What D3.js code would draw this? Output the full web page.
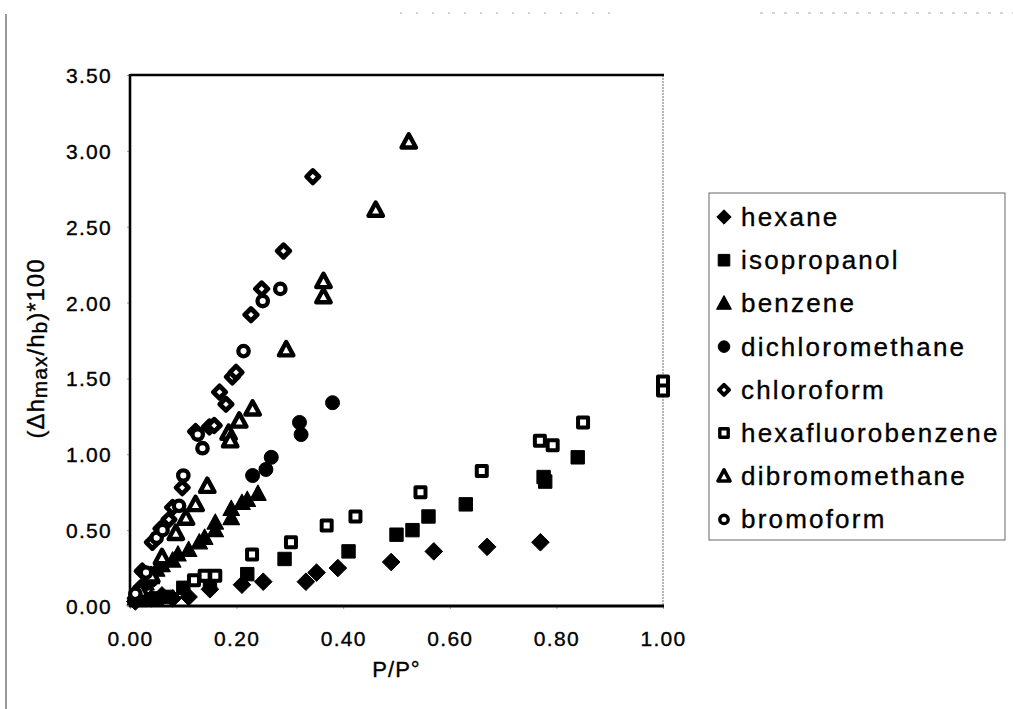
<!DOCTYPE html>
<html><head><meta charset="utf-8">
<script src="https://cdn.jsdelivr.net/npm/d3@7"></script>
<style>
body{margin:0;background:#fff;}
svg text{font-family:"Liberation Sans",Arial,Helvetica,sans-serif;fill:#000;stroke:#000;stroke-width:0.35px;}
</style></head>
<body><svg id="chart" width="1013" height="709"></svg>
<script>
const seriesNames = ["hexane","isopropanol","benzene","dichloromethane","chloroform","hexafluorobenzene","dibromomethane","bromoform"];
const xTicks = [0,0.2,0.4,0.6,0.8,1.0];
const yTicks = [0,0.5,1.0,1.5,2.0,2.5,3.0,3.5];

const hexaneX = [0.01,0.02,0.04,0.06,0.08,0.11,0.15,0.21,0.25,0.33,0.35,0.39,0.49,0.57,0.67,0.77];
const hexaneY = [0.03,0.06,0.05,0.07,0.05,0.06,0.11,0.14,0.16,0.16,0.22,0.25,0.29,0.36,0.39,0.42];
const isopropanolX = [0.02,0.05,0.07,0.10,0.15,0.22,0.29,0.41,0.50,0.53,0.56,0.63,0.776,0.779,0.84];
const isopropanolY = [0.04,0.05,0.06,0.12,0.15,0.21,0.31,0.36,0.47,0.50,0.59,0.67,0.85,0.82,0.98];
const benzeneX = [0.01,0.02,0.03,0.04,0.05,0.06,0.08,0.09,0.11,0.13,0.14,0.16,0.16,0.19,0.19,0.21,0.22,0.24];
const benzeneY = [0.05,0.10,0.15,0.19,0.24,0.27,0.30,0.34,0.37,0.42,0.45,0.50,0.55,0.58,0.64,0.68,0.70,0.74];
const dichloromethaneX = [0.01,0.02,0.04,0.06,0.23,0.255,0.265,0.318,0.321,0.38];
const dichloromethaneY = [0.04,0.07,0.17,0.27,0.86,0.90,0.98,1.21,1.13,1.34];
const chloroformX = [0.01,0.02,0.023,0.042,0.058,0.073,0.08,0.098,0.123,0.149,0.158,0.168,0.18,0.192,0.199,0.227,0.247,0.288,0.343];
const chloroformY = [0.05,0.12,0.23,0.42,0.51,0.57,0.65,0.78,1.15,1.18,1.19,1.41,1.33,1.51,1.54,1.92,2.09,2.34,2.83];
const hexafluorobenzeneX = [0.12,0.14,0.16,0.229,0.302,0.369,0.423,0.545,0.66,0.769,0.793,0.85,1.0,1.0];
const hexafluorobenzeneY = [0.17,0.20,0.20,0.34,0.42,0.53,0.59,0.75,0.89,1.09,1.06,1.21,1.48,1.42];
const dibromomethaneX = [0.02,0.04,0.06,0.086,0.105,0.123,0.145,0.185,0.188,0.205,0.23,0.293,0.363,0.363,0.461,0.523];
const dibromomethaneY = [0.10,0.20,0.32,0.48,0.58,0.67,0.79,1.14,1.09,1.22,1.30,1.69,2.14,2.04,2.61,3.06];
const bromoformX = [0.01,0.03,0.05,0.061,0.092,0.10,0.127,0.136,0.213,0.249,0.282];
const bromoformY = [0.08,0.22,0.45,0.50,0.66,0.86,1.13,1.04,1.68,2.01,2.09];

const seriesData = [
  [hexaneX,hexaneY],[isopropanolX,isopropanolY],[benzeneX,benzeneY],
  [dichloromethaneX,dichloromethaneY],[chloroformX,chloroformY],
  [hexafluorobenzeneX,hexafluorobenzeneY],[dibromomethaneX,dibromomethaneY],[bromoformX,bromoformY]
];

// custom symbol shapes (size = half-extent in px)
const shapes = {
  diamond:{draw(c,r){c.moveTo(0,-r);c.lineTo(r,0);c.lineTo(0,r);c.lineTo(-r,0);c.closePath();}},
  square:{draw(c,r){c.rect(-r,-r,2*r,2*r);}},
  triangle:{draw(c,r){c.moveTo(0,-r*1.05);c.lineTo(r,r*0.8);c.lineTo(-r,r*0.8);c.closePath();}},
  circle:{draw(c,r){c.moveTo(r,0);c.arc(0,0,r,0,2*Math.PI);}}
};
const styles = [
  {shape:"diamond",filled:true,r:8.8,sw:1},
  {shape:"square",filled:true,r:6.7,sw:1},
  {shape:"triangle",filled:true,r:8.2,sw:1.2},
  {shape:"circle",filled:true,r:7,sw:1},
  {shape:"diamond",filled:false,r:6.2,sw:4.8},
  {shape:"square",filled:false,r:5,sw:4},
  {shape:"triangle",filled:false,r:7.2,sw:4.4},
  {shape:"circle",filled:false,r:5.2,sw:4.3}
];
const legendStyles = [
  {shape:"diamond",filled:true,r:7.2,sw:1},
  {shape:"square",filled:true,r:5.8,sw:1},
  {shape:"triangle",filled:true,r:7.2,sw:1.2},
  {shape:"circle",filled:true,r:5.8,sw:1},
  {shape:"diamond",filled:false,r:5,sw:4},
  {shape:"square",filled:false,r:4.2,sw:3.4},
  {shape:"triangle",filled:false,r:6,sw:3.6},
  {shape:"circle",filled:false,r:4.2,sw:3.4}
];

const svg = d3.select("#chart");
const L=130,R=663,T=75,B=606;
const x = d3.scaleLinear().domain([0,1]).range([L,R]);
const y = d3.scaleLinear().domain([0,3.5]).range([B,T]);

// scan border line on the left
svg.append("line").attr("x1",6).attr("x2",6).attr("y1",14).attr("y2",709)
  .attr("stroke","#555").attr("stroke-width",1.2);
svg.append("line").attr("x1",400).attr("x2",615).attr("y1",13).attr("y2",13)
  .attr("stroke","#aaa").attr("stroke-width",1).attr("stroke-dasharray","2,14");
svg.append("line").attr("x1",760).attr("x2",1013).attr("y1",13).attr("y2",13)
  .attr("stroke","#aaa").attr("stroke-width",1).attr("stroke-dasharray","3,9");

// axes
const yAxis = d3.axisLeft(y).tickValues(yTicks).tickFormat(d3.format(".2f")).tickSize(3).tickPadding(15);
const gy = svg.append("g").attr("transform",`translate(${L},0)`).call(yAxis);
gy.select(".domain").remove();
gy.selectAll(".tick line").attr("stroke","#999");
gy.selectAll(".tick text").attr("font-size",21).attr("letter-spacing","1.3px").attr("dy","0.36em");

const xAxis = d3.axisBottom(x).tickValues(xTicks).tickFormat(d3.format(".2f")).tickSize(3).tickPadding(22);
const gx = svg.append("g").attr("transform",`translate(0,${B})`).call(xAxis);
gx.select(".domain").remove();
gx.selectAll(".tick line").attr("stroke","#999");
gx.selectAll(".tick text").attr("font-size",21).attr("letter-spacing","1.3px");

// frame
svg.append("line").attr("x1",R).attr("x2",R).attr("y1",T).attr("y2",B)
  .attr("stroke","#888").attr("stroke-width",1.2).attr("stroke-dasharray","2,1");
svg.append("line").attr("x1",L).attr("x2",R+1).attr("y1",T).attr("y2",T).attr("stroke","#000").attr("stroke-width",2.6);
svg.append("line").attr("x1",L).attr("x2",L).attr("y1",T-1).attr("y2",B+1).attr("stroke","#000").attr("stroke-width",2.6);
svg.append("line").attr("x1",L-1).attr("x2",R+1).attr("y1",B).attr("y2",B).attr("stroke","#000").attr("stroke-width",3);

// axis titles
svg.append("text").attr("x",(L+R)/2).attr("y",677).attr("text-anchor","middle")
  .attr("font-size",22).attr("letter-spacing","1px").text("P/P°");
const yt = svg.append("text").attr("transform",`translate(44,${(T+B)/2+8}) rotate(-90)`)
  .attr("text-anchor","middle").attr("font-size",24).attr("letter-spacing","1px");
yt.append("tspan").text("(\u0394h");
yt.append("tspan").attr("font-size",21).attr("dy",3).text("max");
yt.append("tspan").attr("dy",-3).text("/h");
yt.append("tspan").attr("font-size",21).attr("dy",3).text("b");
yt.append("tspan").attr("dy",-3).text(")*100");

// points
const gp = svg.append("g");
seriesData.forEach((sd,i)=>{
  const st = styles[i];
  const pts = sd[0].map((v,k)=>({x:v,y:sd[1][k]}));
  const sym = d3.symbol().type(shapes[st.shape]).size(st.r);
  gp.append("g").selectAll("path").data(pts).join("path")
    .attr("transform",d=>`translate(${x(d.x)},${y(d.y)})`)
    .attr("d",sym)
    .attr("fill",st.filled?"#000":"#fff")
    .attr("stroke","#000")
    .attr("stroke-width",st.sw)
    .attr("stroke-linejoin","round");
});

// legend
const lg = svg.append("g");
lg.append("rect").attr("x",709).attr("y",193).attr("width",296).attr("height",347)
  .attr("fill","none").attr("stroke","#666").attr("stroke-width",1);
seriesNames.forEach((n,i)=>{
  const cy = 217 + i*43.2;
  const st = legendStyles[i];
  lg.append("path").attr("transform",`translate(724,${cy})`)
    .attr("d",d3.symbol().type(shapes[st.shape]).size(st.r))
    .attr("fill",st.filled?"#000":"#fff").attr("stroke","#000")
    .attr("stroke-width",st.sw).attr("stroke-linejoin","round");
  lg.append("text").attr("x",741).attr("y",cy+9).attr("font-size",26)
    .attr("letter-spacing","2.2px").text(n);
});
</script></body></html>
